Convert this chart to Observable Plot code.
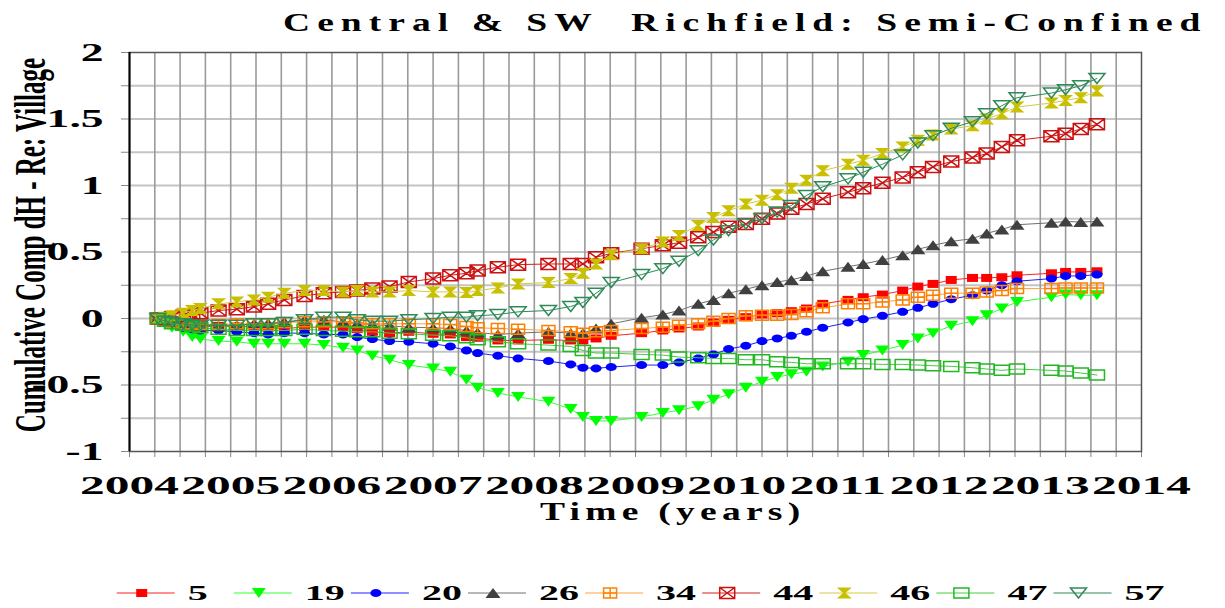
<!DOCTYPE html>
<html>
<head>
<meta charset="utf-8">
<script src="https://cdn.jsdelivr.net/npm/d3@7"></script>
<script src="https://cdn.jsdelivr.net/npm/@observablehq/plot@0.6"></script>
<style>
html, body { margin: 0; padding: 0; background: #fff; }
#wrap { position: relative; width: 1225px; height: 608px; overflow: hidden;
  font-family: "Liberation Serif", "Times New Roman", serif; color: #000; }
#chart { position: absolute; left: 0; top: 0; }
#title { position: absolute; left: 283px; top: 10px; font-size: 25px; line-height: 25px; font-weight: bold;
  letter-spacing: 4.7px; white-space: pre; transform-origin: 0 50%; transform: scaleX(1.5); }
#xtitle { position: absolute; left: 540px; top: 499px; font-size: 25px; line-height: 25px; font-weight: bold;
  letter-spacing: 3.5px; white-space: pre; transform-origin: 0 50%; transform: scaleX(1.5); }
#ytitle { position: absolute; left: 0; top: 0; font-size: 25px; line-height: 25px; font-weight: bold;
  white-space: pre; transform-origin: 0 0;
  transform: translate(30px, 245px) scaleX(1.75) rotate(-90deg) translate(-50%, -50%); }
#legend { position: absolute; left: 0; top: 575px; }
</style>
</head>
<body>
<div id="wrap">
  <div id="chart"></div>
  <div id="title">Central &amp; SW  Richfield: Semi-Confined</div>
  <div id="xtitle">Time (years)</div>
  <div id="ytitle">Cumulative Comp dH - Re: Village</div>
  <div id="legend"></div>
</div>
<script>
// ---------- data ----------
const years = [2004.28, 2004.35, 2004.42, 2004.53, 2004.62, 2004.70, 2004.88, 2005.06, 2005.23, 2005.37,
  2005.53, 2005.73, 2005.92, 2006.11, 2006.25, 2006.40, 2006.57, 2006.76, 2007.00, 2007.17,
  2007.33, 2007.44, 2007.64, 2007.84, 2008.14, 2008.36, 2008.48, 2008.61, 2008.76, 2009.06,
  2009.27, 2009.43, 2009.62, 2009.77, 2009.92, 2010.09, 2010.25, 2010.40, 2010.54, 2010.69,
  2010.85, 2011.10, 2011.25, 2011.44, 2011.64, 2011.79, 2011.94, 2012.12, 2012.33, 2012.47,
  2012.62, 2012.77, 2013.11, 2013.25, 2013.40, 2013.56];

const s5 = [0, -0.02, -0.03, -0.04, -0.05, -0.05, -0.055, -0.06, -0.06, -0.07, -0.075, -0.065, -0.065, -0.065, -0.08, -0.10, -0.11,
  -0.10, -0.115, -0.12, -0.14, -0.145, -0.165, -0.165, -0.16, -0.165, -0.165, -0.15, -0.13,
  -0.11, -0.09, -0.075, -0.06, -0.03, -0.01, 0.01, 0.03, 0.04, 0.055, 0.075, 0.11, 0.14, 0.16,
  0.18, 0.21, 0.24, 0.26, 0.29, 0.305, 0.305, 0.31, 0.325, 0.34, 0.35, 0.35, 0.355];
const s19 = [0, -0.04, -0.07, -0.10, -0.14, -0.155, -0.17, -0.175, -0.19, -0.19, -0.19, -0.19, -0.20, -0.22, -0.24, -0.28, -0.31,
  -0.35, -0.375, -0.40, -0.46, -0.52, -0.56, -0.59, -0.625, -0.68, -0.74, -0.77, -0.77,
  -0.74, -0.71, -0.69, -0.66, -0.61, -0.57, -0.52, -0.475, -0.44, -0.42, -0.40, -0.36, -0.325, -0.275,
  -0.24, -0.20, -0.15, -0.11, -0.055, -0.02, 0.025, 0.075, 0.125, 0.16, 0.18, 0.175, 0.175];
const s20 = [0, -0.03, -0.05, -0.07, -0.08, -0.09, -0.09, -0.10, -0.11, -0.12, -0.11, -0.11, -0.12, -0.12, -0.14, -0.155, -0.17,
  -0.175, -0.19, -0.21, -0.24, -0.26, -0.28, -0.30, -0.32, -0.345, -0.37, -0.375, -0.365,
  -0.35, -0.35, -0.33, -0.30, -0.27, -0.23, -0.205, -0.17, -0.15, -0.13, -0.10, -0.07, -0.03, -0.005,
  0.02, 0.05, 0.08, 0.11, 0.145, 0.175, 0.21, 0.25, 0.28, 0.30, 0.32, 0.32, 0.33];
const s26 = [0, -0.02, -0.04, -0.05, -0.06, -0.06, -0.06, -0.05, -0.04, -0.035, -0.025, -0.01, -0.01, -0.025, -0.04, -0.045, -0.055,
  -0.065, -0.07, -0.075, -0.09, -0.105, -0.12, -0.11, -0.10, -0.11, -0.11, -0.075, -0.04,
  0.005, 0.03, 0.06, 0.11, 0.14, 0.19, 0.22, 0.25, 0.275, 0.29, 0.32, 0.355, 0.39, 0.41,
  0.44, 0.475, 0.52, 0.55, 0.58, 0.60, 0.64, 0.67, 0.705, 0.72, 0.73, 0.725, 0.73];
const s34 = [0, -0.02, -0.03, -0.04, -0.04, -0.045, -0.045, -0.04, -0.04, -0.04, -0.03, -0.025, -0.025, -0.025, -0.03, -0.04, -0.04,
  -0.04, -0.04, -0.045, -0.06, -0.07, -0.075, -0.08, -0.09, -0.10, -0.11, -0.10, -0.09,
  -0.075, -0.065, -0.05, -0.04, -0.02, 0, 0.02, 0.025, 0.025, 0.03, 0.05, 0.08, 0.11, 0.11,
  0.125, 0.14, 0.16, 0.175, 0.19, 0.19, 0.20, 0.21, 0.225, 0.225, 0.23, 0.23, 0.23];
const s44 = [0, 0.0, 0.01, 0.02, 0.03, 0.04, 0.06, 0.07, 0.09, 0.11, 0.14, 0.17, 0.19, 0.20, 0.21, 0.225, 0.24,
  0.275, 0.30, 0.325, 0.34, 0.36, 0.385, 0.405, 0.41, 0.41, 0.41, 0.46, 0.49,
  0.525, 0.55, 0.57, 0.61, 0.65, 0.69, 0.71, 0.75, 0.79, 0.825, 0.86, 0.90, 0.95, 0.98,
  1.02, 1.06, 1.10, 1.14, 1.18, 1.21, 1.24, 1.29, 1.34, 1.37, 1.39, 1.425, 1.46];
const s46 = [0, 0.01, 0.02, 0.04, 0.06, 0.075, 0.11, 0.125, 0.14, 0.16, 0.19, 0.21, 0.21, 0.20, 0.21, 0.20, 0.20,
  0.21, 0.20, 0.20, 0.195, 0.21, 0.23, 0.26, 0.27, 0.30, 0.34, 0.41, 0.48,
  0.525, 0.575, 0.625, 0.70, 0.76, 0.81, 0.86, 0.89, 0.93, 0.98, 1.04, 1.11, 1.16, 1.19,
  1.24, 1.29, 1.34, 1.38, 1.425, 1.45, 1.50, 1.54, 1.59, 1.62, 1.64, 1.66, 1.71];
const s47 = [0, -0.02, -0.04, -0.05, -0.06, -0.07, -0.08, -0.09, -0.09, -0.09, -0.09, -0.08, -0.09, -0.095, -0.10, -0.10, -0.11,
  -0.115, -0.125, -0.13, -0.145, -0.16, -0.175, -0.19, -0.20, -0.21, -0.24, -0.26, -0.26,
  -0.27, -0.275, -0.29, -0.295, -0.30, -0.30, -0.31, -0.31, -0.325, -0.33, -0.34, -0.34, -0.34, -0.34,
  -0.345, -0.345, -0.35, -0.355, -0.36, -0.37, -0.38, -0.39, -0.38, -0.39, -0.395, -0.41, -0.425];
const s57 = [0, -0.02, -0.03, -0.04, -0.05, -0.05, -0.05, -0.05, -0.04, -0.04, -0.03, -0.01, 0.01, 0.01, -0.01, -0.02, -0.02,
  -0.01, 0.0, 0.01, 0.01, 0.02, 0.03, 0.05, 0.06, 0.09, 0.12, 0.19, 0.27,
  0.33, 0.375, 0.43, 0.51, 0.59, 0.66, 0.71, 0.75, 0.80, 0.85, 0.925, 0.99, 1.05, 1.10,
  1.16, 1.23, 1.32, 1.375, 1.43, 1.48, 1.54, 1.60, 1.66, 1.695, 1.72, 1.75, 1.805];

const seriesNames = ["5", "19", "20", "26", "34", "44", "46", "47", "57"];
const xTickLabels = [2004, 2005, 2006, 2007, 2008, 2009, 2010, 2011, 2012, 2013, 2014];
const yTickLabels = [-1, -0.5, 0, 0.5, 1, 1.5, 2];

// ---------- marker shapes (custom d3 symbol types) ----------
function rectPath(c, w, h) { c.moveTo(-w/2, -h/2); c.lineTo(w/2, -h/2); c.lineTo(w/2, h/2); c.lineTo(-w/2, h/2); c.closePath(); }
const symSquare = (w, h) => ({ draw(c) { rectPath(c, w, h); } });
const symSquarePlus = (w, h) => ({ draw(c) { rectPath(c, w, h); c.moveTo(0, -h/2); c.lineTo(0, h/2); c.moveTo(-w/2, 0); c.lineTo(w/2, 0); } });
const symSquareX = (w, h) => ({ draw(c) { rectPath(c, w, h); c.moveTo(-w/2, -h/2); c.lineTo(w/2, h/2); c.moveTo(w/2, -h/2); c.lineTo(-w/2, h/2); } });
const symTriDown = (w, h) => ({ draw(c) { c.moveTo(-w/2, -h/2); c.lineTo(w/2, -h/2); c.lineTo(0, h/2); c.closePath(); } });
const symTriUp = (w, h) => ({ draw(c) { c.moveTo(-w/2, h/2); c.lineTo(w/2, h/2); c.lineTo(0, -h/2); c.closePath(); } });
const symEllipse = (w, h) => ({ draw(c) {
  const n = 20;
  for (let i = 0; i < n; i++) { const a = 2 * Math.PI * i / n; const x = Math.cos(a) * w/2, y = Math.sin(a) * h/2; i ? c.lineTo(x, y) : c.moveTo(x, y); }
  c.closePath(); } });
const symHourglass = (w, h) => ({ draw(c) {
  c.moveTo(-w/2, -h/2); c.lineTo(w/2, -h/2); c.lineTo(1.2, 0); c.lineTo(w/2, h/2); c.lineTo(-w/2, h/2); c.lineTo(-1.2, 0); c.closePath(); } });

const styles = {
  "5":  {line: "#ff2020", color: "#ff0000", symbol: symSquare(11, 8), filled: true},
  "19": {line: "#33ff33", color: "#00ff00", symbol: symTriDown(14, 10), filled: true},
  "20": {line: "#2020ff", color: "#0000ff", symbol: symEllipse(11, 8), filled: true},
  "26": {line: "#707070", color: "#404040", symbol: symTriUp(15, 10), filled: true},
  "34": {line: "#ffa040", color: "#ff8000", symbol: symSquarePlus(13, 10), filled: false},
  "44": {line: "#d02020", color: "#cc1111", symbol: symSquareX(15, 11), filled: false},
  "46": {line: "#d0cc40", color: "#c8c000", symbol: symHourglass(15, 11), filled: true},
  "47": {line: "#44cc44", color: "#22b822", symbol: symSquare(15, 10), filled: false},
  "57": {line: "#2e8b57", color: "#2e8b57", symbol: symTriDown(16, 10), filled: false}
};
const seriesValues = {"5": s5, "19": s19, "20": s20, "26": s26, "34": s34, "44": s44, "46": s46, "47": s47, "57": s57};

const rows = seriesNames.flatMap(name => seriesValues[name].map((v, i) => ({series: name, date: years[i], value: v})));

// ---------- chart ----------
const xTicks = d3.range(2004, 2014.001, 0.25);
const yTicks = d3.range(-1, 2.001, 0.25);

const seriesMarks = seriesNames.flatMap(name => {
  const st = styles[name];
  const data = rows.filter(r => r.series === name);
  return [
    Plot.line(data, {x: "date", y: "value", stroke: st.line, strokeWidth: 1}),
    Plot.dot(data, {x: "date", y: "value", symbol: st.symbol,
      fill: st.filled ? st.color : "none", stroke: st.filled ? "none" : st.color, strokeWidth: 1.5})
  ];
});

const plot = Plot.plot({
  width: 1225, height: 530,
  marginLeft: 129, marginRight: 84, marginTop: 52, marginBottom: 79,
  style: {fontFamily: '"Liberation Serif","Times New Roman",serif', fontSize: "26px", fontWeight: "bold",
    color: "#000", background: "transparent", overflow: "visible"},
  x: {domain: [2004, 2014]},
  y: {domain: [-1, 2]},
  marks: [
    Plot.ruleY(yTicks.slice(1, -1), {stroke: "#c4c4c4", strokeWidth: 2}),
    Plot.ruleX(xTicks.slice(1, -1), {stroke: "#9a9a9a", strokeWidth: 1.6}),
    Plot.axisX({ticks: xTicks, tickSize: 6, tickPadding: 18, stroke: "#888",
      tickFormat: d => xTickLabels.includes(d) ? String(d) : "", label: null}),
    Plot.axisY({ticks: yTicks, tickSize: 8, tickPadding: 18, stroke: "#888",
      tickFormat: d => yTickLabels.includes(d) ? String(d) : "", label: null}),
    Plot.frame({stroke: "#555", strokeWidth: 1.5}),
    Plot.ruleX([2004], {stroke: "#000", strokeWidth: 2}),
    ...seriesMarks
  ]
});
document.getElementById("chart").appendChild(plot);

// widen axis tick labels (the source chart's text is stretched horizontally)
function stretch(sel, sx) {
  sel.each(function () {
    const L = this.getComputedTextLength();
    if (L > 0) {
      this.setAttribute("textLength", (L * sx).toFixed(1));
      this.setAttribute("lengthAdjust", "spacingAndGlyphs");
    }
  });
}
const svg = d3.select(plot);
stretch(svg.selectAll('g[aria-label="x-axis tick label"] text'), 1.9);
stretch(svg.selectAll('g[aria-label="y-axis tick label"] text'), 1.75);

// ---------- legend ----------
const leg = d3.create("svg").attr("width", 1225).attr("height", 33)
  .style("font-family", '"Liberation Serif","Times New Roman",serif');
seriesNames.forEach((name, i) => {
  const st = styles[name];
  const x0 = 116.7 + i * 117.1;
  const g = leg.append("g").attr("transform", `translate(${x0},18)`);
  g.append("line").attr("x1", 0).attr("x2", 58).attr("y1", 0).attr("y2", 0).attr("stroke", st.line).attr("stroke-width", 1);
  g.append("path").attr("transform", "translate(25,0)").attr("d", d3.symbol(st.symbol)())
    .attr("fill", st.filled ? st.color : "none").attr("stroke", st.filled ? "none" : st.color).attr("stroke-width", 1.5);
  g.append("text").attr("transform", "translate(71,7) scale(2,1)")
    .attr("font-size", 20).attr("font-weight", "bold").attr("fill", "#000").text(name);
});
document.getElementById("legend").appendChild(leg.node());
</script>
</body>
</html>
